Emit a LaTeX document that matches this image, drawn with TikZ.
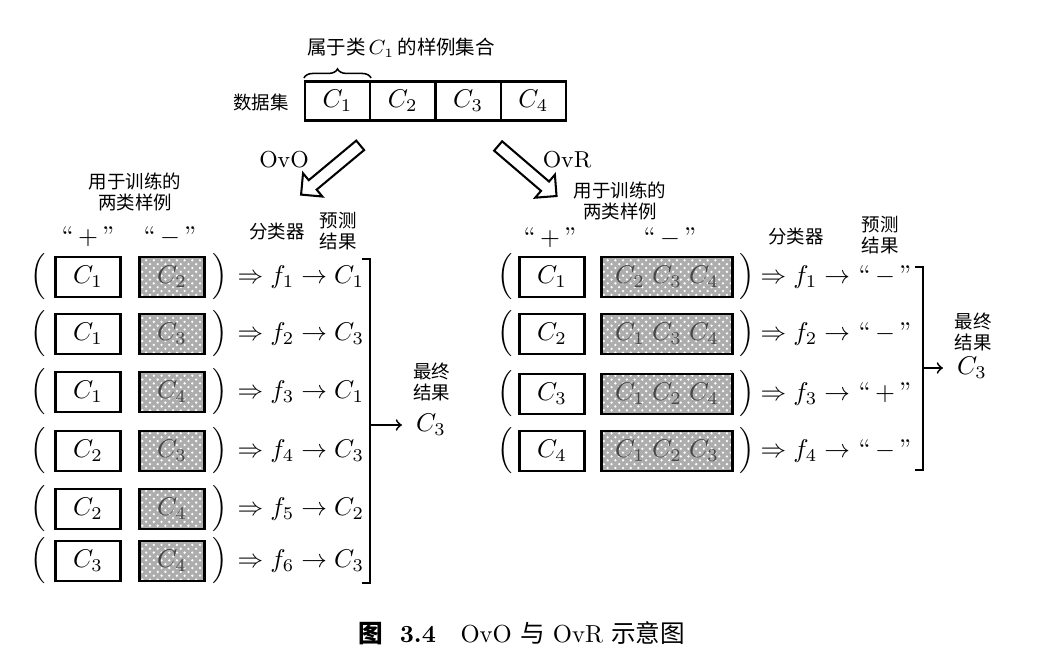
\documentclass[tikz,border=0pt]{standalone}
\usepackage{fontspec}
\newfontfamily\cjk{Noto Sans CJK SC}
\usetikzlibrary{shapes.arrows,patterns,decorations.pathreplacing}
\tikzset{
  cls/.style={draw, line width=0.8pt, minimum width=25.4pt, minimum height=15.2pt, inner sep=0pt},
  posbox/.style={draw, line width=1.1pt, minimum width=25.5pt, minimum height=15.6pt, inner sep=0pt},
  negbox/.style={posbox, fill=black!32, postaction={pattern=crosshatch dots, pattern color=white}, postaction={draw, line width=1.1pt}, text=black!72},
  note/.style={font=\cjk\fontsize{7.2}{8}\selectfont, align=center, inner sep=0pt},
  hollow/.style={single arrow, draw, line width=0.8pt, minimum height=30pt, inner sep=2pt, single arrow head extend=3.5pt, single arrow tip angle=90}
}
\begin{document}
\begin{tikzpicture}[x=0.39pt,y=-0.39pt]
\useasboundingbox (0,0) rectangle (1039,668);
% data set on top
\node[note] (ds) at (261,102) {数据集};
\foreach \x in {1,...,4}
    \node[cls] (d\x) at (337.5+65.3*\x-65.3,101) {$C_\x$};
\draw[line width=0.6pt, decorate, decoration={brace, amplitude=3.5pt}] ([yshift=1pt]d1.north west) -- ([yshift=1pt]d1.north east);
\node[note, font=\cjk\fontsize{7.6}{8}\selectfont] (setlab) at (401,48) {属于类\,$C_1$\,的样例集合};
% the two ways
\node[hollow, rotate=219.8] (ovo) at (333,168) {};
\node[hollow, rotate=-40.6] (ovr) at (525,169) {};
\node[font=\fontsize{9}{10}\selectfont] (ovolab) at (284,160) {OvO};
\node[font=\fontsize{9}{10}\selectfont] (ovrlab) at (567,160) {OvR};
% OvO
\node[note] (trainL) at (135,192) {用于训练的\\两类样例};
\node (plusL) at (88,237) {``\,$+$\,''};
\node (minusL) at (170,237) {``\,$-$\,''};
\node[note] (clsL) at (277,232) {分类器};
\node[note] (predL) at (338,231) {预测\\结果};
\foreach[count=\i] \p/\n/\r/\y in {1/2/1/277,1/3/3/334,1/4/1/392,2/3/3/451,2/4/2/509,3/4/3/561}
{
    \node (lpL\i) at (38,\y) {$\Big($};
    \node[posbox] (posL\i) at (88,\y) {$C_\p$};
    \node[negbox] (negL\i) at (172,\y) {$C_\n$};
    \node (rpL\i) at (220,\y) {$\Big)$};
    \node[anchor=west, inner sep=0pt] (resL\i) at (237,\y) {$\Rightarrow f_\i \rightarrow C_\r$};
}
\coordinate (brLt) at (370,259);
\coordinate (brLb) at (370,583);
\coordinate (brLm) at (370,425);
\draw[line width=0.6pt] ([xshift=-3pt]brLt) -- (brLt) -- (brLb) -- ([xshift=-3pt]brLb);
\node (finL) at (431,425) {$C_3$};
\node[note] (endL) at (432,382) {最终\\结果};
\draw[->, line width=0.7pt, shorten >=2pt] (brLm) -- (finL);
% OvR
\node[note] (trainR) at (620,201) {用于训练的\\两类样例};
\node (plusR) at (550,238) {``\,$+$\,''};
\node (minusR) at (670,238) {``\,$-$\,''};
\node[note] (clsR) at (796,237) {分类器};
\node[note] (predR) at (880,235) {预测\\结果};
\foreach[count=\i] \p/\n/\r/\y in {1/{C_2\;C_3\;C_4}/-/277,2/{C_1\;C_3\;C_4}/-/334,3/{C_1\;C_2\;C_4}/+/394,4/{C_1\;C_2\;C_3}/-/451}
{
    \node (lpR\i) at (505,\y) {$\Big($};
    \node[posbox] (posR\i) at (552,\y) {$C_\p$};
    \node[negbox, minimum width=51pt] (negR\i) at (667,\y) {$\n$};
    \node (rpR\i) at (747,\y) {$\Big)$};
    \node[anchor=west, inner sep=0pt] (resR\i) at (760,\y) {$\Rightarrow f_\i \rightarrow$ ``\,$\r$\,''};
}
\coordinate (brRt) at (923,267);
\coordinate (brRb) at (923,470);
\coordinate (brRm) at (923,368);
\draw[line width=0.6pt] ([xshift=-3pt]brRt) -- (brRt) -- (brRb) -- ([xshift=-3pt]brRb);
\node (finR) at (972,368) {$C_3$};
\node[note] (endR) at (973,332) {最终\\结果};
\draw[->, line width=0.7pt, shorten >=2pt] (brRm) -- (finR);
% caption
\node[font=\fontsize{9.6}{10}\selectfont] (cap) at (522,633) {{\cjk\bfseries 图}\ \ \textbf{3.4}\quad OvO {\cjk 与} OvR {\cjk 示意图}};
\end{tikzpicture}
\end{document}
